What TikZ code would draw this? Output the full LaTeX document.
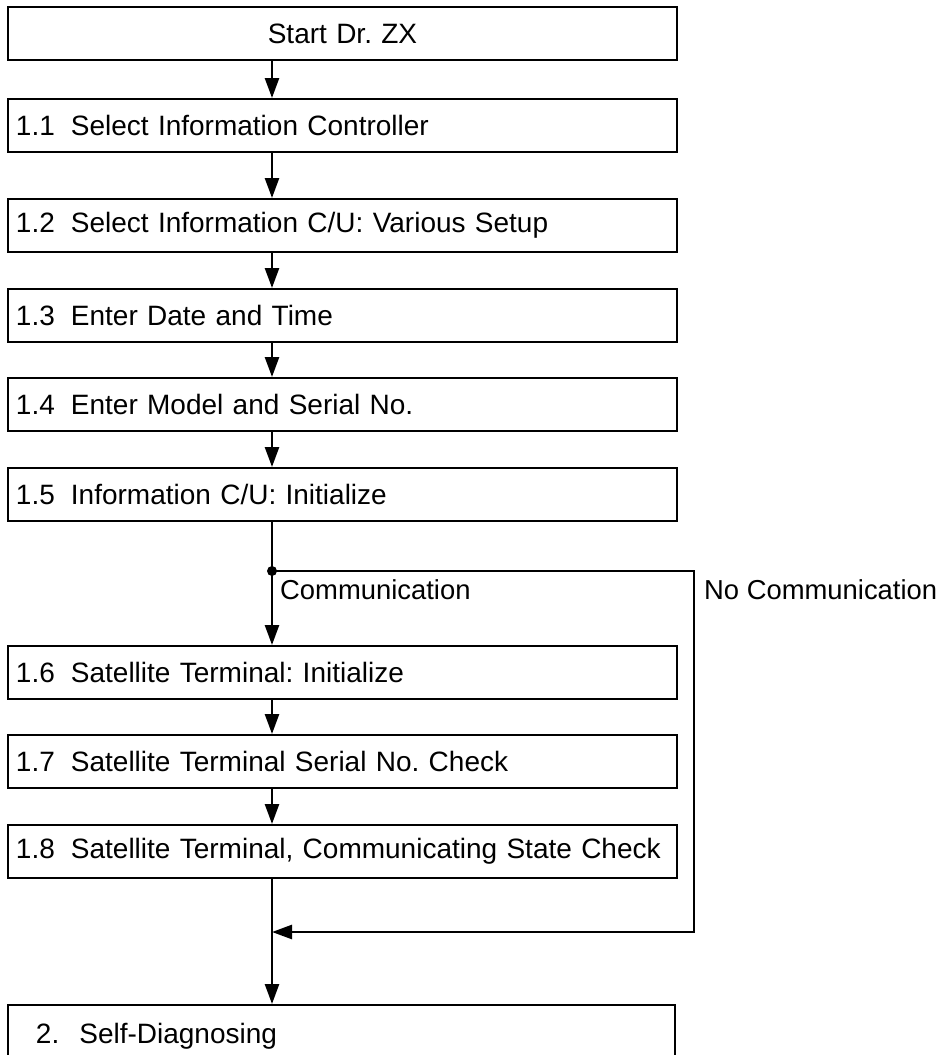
\documentclass[tikz,border=0pt]{standalone}
\usepackage{fontspec}
\setmainfont{Liberation Sans}
\usetikzlibrary{arrows.meta}
\newcommand{\nsep}{\hspace{16pt}}
\frenchspacing
\begin{document}
\begin{tikzpicture}[x=1pt,y=-1pt,
  stepbox/.style={draw, line width=2pt, rectangle, anchor=north west,
    minimum height=53pt, inner xsep=8pt, inner ysep=0pt, text width=653pt,
    align=left, font=\fontsize{28}{33}\selectfont},
  lbl/.style={anchor=west, inner sep=0pt, font=\fontsize{27.4}{33}\selectfont},
  link/.style={line width=2.6pt},
  conn/.style={link, -{Triangle[length=20pt,width=14pt]}}]
\useasboundingbox (0,0) rectangle (942,1055);
\coordinate (xl) at (272,0);
\node[stepbox, align=center] (start) at (7,6) {Start Dr. ZX};
\node[stepbox] (s11) at (7,98)  {1.1\nsep Select Information Controller};
\node[stepbox] (s12) at (7,198) {1.2\nsep Select Information C/U: Various Setup};
\node[stepbox] (s13) at (7,288) {1.3\nsep Enter Date and Time};
\node[stepbox] (s14) at (7,377) {1.4\nsep Enter Model and Serial No.};
\node[stepbox] (s15) at (7,467) {1.5\nsep Information C/U: Initialize};
\node[stepbox] (s16) at (7,645) {1.6\nsep Satellite Terminal: Initialize};
\node[stepbox] (s17) at (7,734) {1.7\nsep Satellite Terminal Serial No. Check};
\node[stepbox] (s18) at (7,824) {1.8\nsep Satellite Terminal, Communicating State Check};
\node[stepbox, minimum height=62pt, text width=651pt] (s2) at (7,1004) {\hspace*{20pt}2.\hspace{20pt}Self-Diagnosing};
\coordinate (br) at (272,571);
\coordinate (rt) at (694,571);
\coordinate (rb) at (694,932);
\coordinate (mg) at (272,932);
\draw[conn] (start.south -| xl) -- (s11.north -| xl);
\draw[conn] (s11.south -| xl) -- (s12.north -| xl);
\draw[conn] (s12.south -| xl) -- (s13.north -| xl);
\draw[conn] (s13.south -| xl) -- (s14.north -| xl);
\draw[conn] (s14.south -| xl) -- (s15.north -| xl);
\draw[conn] (s15.south -| xl) -- (s16.north -| xl);
\draw[conn] (s16.south -| xl) -- (s17.north -| xl);
\draw[conn] (s17.south -| xl) -- (s18.north -| xl);
\draw[conn] (s18.south -| xl) -- (s2.north -| xl);
\draw[conn] (br) -- (rt) -- (rb) -- (mg);
\fill (br) circle (5pt);
\node[lbl] (com) at (280,590) {Communication};
\node[lbl] (nocom) at (704,590) {No Communication};
\end{tikzpicture}
\end{document}
